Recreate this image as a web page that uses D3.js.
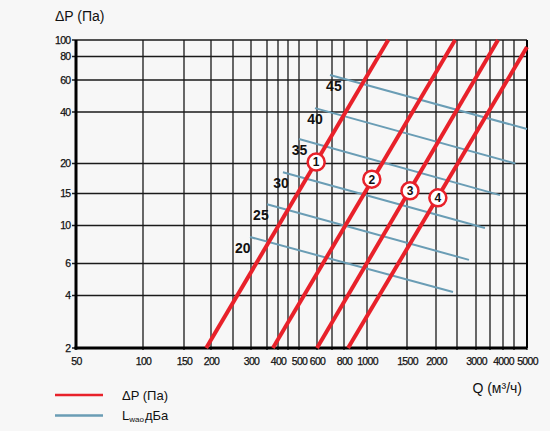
<!DOCTYPE html>
<html>
<head>
<meta charset="utf-8">
<script src="https://cdn.jsdelivr.net/npm/d3@7"></script>
<style>
  body { margin: 0; background: #f7f7f7; }
  text { font-family: "Liberation Sans", Arial, sans-serif; }
</style>
</head>
<body>
<div id="chart"></div>
<script>
// grid values and labelled ticks
var xGrid = [50, 100, 150, 200, 250, 300, 350, 400, 450, 500, 600, 700, 800, 1000, 1500, 2000, 2500, 3000, 3500, 4000, 4500, 5000];
var xLabels = [50, 100, 150, 200, 300, 400, 500, 600, 800, 1000, 1500, 2000, 3000, 4000, 5000];
var yGrid = [2, 4, 6, 10, 15, 20, 40, 60, 80, 100];

// red pressure lines: [Q, dP] start and end
var dpLines = [
  [[190, 2], [1240, 100]],
  [[376, 2], [2450, 100]],
  [[600, 2], [3800, 100]],
  [[832, 2], [5000, 91]]
];
// numbered markers on the red lines
var markerNames = ["1", "2", "3", "4"];
var markerQ = [595, 1050, 1545, 2040];
var markerDp = [20.4, 17.2, 15.4, 14.2];

// noise lines Lwa0 (dBA)
var lwaNames = ["20", "25", "30", "35", "40", "45"];
var lwaLines = [
  [[297, 8.57], [2396, 4.18]],
  [[350, 13.1], [2805, 6.3]],
  [[424, 18.4], [3310, 9.67]],
  [[500, 27.8], [3880, 14.7]],
  [[588, 42], [4550, 20.0]],
  [[686, 63.8], [5000, 31.8]]
];
var lwaLabelQ = [276, 330, 414, 503, 588, 715];

var margin = {top: 40, right: 23, bottom: 83, left: 76},
    width = 550 - margin.left - margin.right,
    height = 431 - margin.top - margin.bottom;

var svg = d3.select("#chart")
    .append("svg")
    .attr("width", width + margin.left + margin.right)
    .attr("height", height + margin.top + margin.bottom)
    .style("background", "#f7f7f7")
    .append("g")
    .attr("transform", "translate(" + margin.left + "," + margin.top + ")");

// the printed chart is not a clean log grid, so the scales are piecewise log
var x = d3.scaleLog()
    .domain(xGrid)
    .range([0, 67, 108, 135, 157, 175, 191, 202, 212, 223, 241, 256, 268, 291, 331, 360, 381, 400, 414, 427, 438, 451]);

var y = d3.scaleLog()
    .domain(yGrid)
    .range([308, 255.5, 223.5, 185.5, 153.5, 123.5, 72, 40, 16.5, 0]);

// grid
svg.append("g").selectAll("line.v")
    .data(xGrid)
    .enter().append("line")
    .attr("x1", function(d) { return x(d); })
    .attr("x2", function(d) { return x(d); })
    .attr("y1", 0)
    .attr("y2", height + 2)
    .attr("stroke", "#1a1a1a")
    .attr("stroke-width", 1.3);

svg.append("g").selectAll("line.h")
    .data(yGrid)
    .enter().append("line")
    .attr("x1", -4)
    .attr("x2", width)
    .attr("y1", function(d) { return y(d); })
    .attr("y2", function(d) { return y(d); })
    .attr("stroke", "#1a1a1a")
    .attr("stroke-width", 1.3);

// axes (labels only, lines drawn by hand)
var yAxis = svg.append("g")
    .call(d3.axisLeft(y).tickValues(yGrid).tickSize(4).tickPadding(1.5).tickFormat(d3.format("d")));
var xAxis = svg.append("g")
    .attr("transform", "translate(0," + height + ")")
    .call(d3.axisBottom(x).tickValues(xLabels).tickSize(2).tickPadding(8).tickFormat(d3.format("d")));
[xAxis, yAxis].forEach(function(a) {
  a.select(".domain").remove();
  a.selectAll(".tick line").remove();
  a.selectAll("text")
      .attr("fill", "#111")
      .style("font-family", "'Liberation Sans', Arial, sans-serif")
      .style("font-size", "10.5px")
      .style("letter-spacing", "-0.7px")
      .style("stroke", "#111")
      .style("stroke-width", "0.25px");
});

svg.append("line")
    .attr("x1", 0).attr("x2", 0)
    .attr("y1", 0).attr("y2", height + 1.5)
    .attr("stroke", "#000").attr("stroke-width", 3);
svg.append("line")
    .attr("x1", -1.5).attr("x2", width)
    .attr("y1", height).attr("y2", height)
    .attr("stroke", "#000").attr("stroke-width", 3);
svg.append("line")
    .attr("x1", width).attr("x2", width)
    .attr("y1", 0).attr("y2", height)
    .attr("stroke", "#000").attr("stroke-width", 2);

var line = d3.line()
    .x(function(d) { return x(d[0]); })
    .y(function(d) { return y(d[1]); });

// Lwa0 lines
svg.append("g").selectAll("path")
    .data(lwaLines)
    .enter().append("path")
    .attr("d", line)
    .attr("fill", "none")
    .attr("stroke", "#6a9db5")
    .attr("stroke-width", 2);

svg.append("g").selectAll("text")
    .data(lwaNames)
    .enter().append("text")
    .attr("x", function(d, i) { return x(lwaLabelQ[i]); })
    .attr("y", function(d, i) { return y(lwaLines[i][0][1]) + 16; })
    .attr("text-anchor", "middle")
    .attr("font-size", "14px")
    .attr("font-weight", "bold")
    .attr("fill", "#111")
    .text(function(d) { return d; });

// pressure lines
svg.append("g").selectAll("path")
    .data(dpLines)
    .enter().append("path")
    .attr("d", line)
    .attr("fill", "none")
    .attr("stroke", "#e8212a")
    .attr("stroke-width", 4);

// numbered markers
var mk = svg.append("g").selectAll("g")
    .data(markerNames)
    .enter().append("g")
    .attr("transform", function(d, i) {
      return "translate(" + x(markerQ[i]) + "," + y(markerDp[i]) + ")";
    });
mk.append("circle")
    .attr("r", 8.5)
    .attr("fill", "#fff")
    .attr("stroke", "#e8212a")
    .attr("stroke-width", 2.5);
mk.append("text")
    .attr("text-anchor", "middle")
    .attr("dy", "0.36em")
    .attr("font-size", "12px")
    .attr("font-weight", "bold")
    .attr("fill", "#111")
    .text(function(d) { return d; });

// axis titles
svg.append("text")
    .attr("x", 55 - margin.left)
    .attr("y", 21 - margin.top)
    .attr("font-size", "14px")
    .attr("fill", "#111")
    .text("ΔP (Па)");
svg.append("text")
    .attr("x", 522 - margin.left)
    .attr("y", 393 - margin.top)
    .attr("text-anchor", "end")
    .attr("font-size", "14px")
    .attr("fill", "#111")
    .text("Q (м³/ч)");

// legend
var legend = svg.append("g")
    .attr("transform", "translate(" + (55 - margin.left) + "," + (395 - margin.top) + ")");
legend.append("line")
    .attr("x1", 0).attr("x2", 48).attr("y1", 0).attr("y2", 0)
    .attr("stroke", "#e8212a").attr("stroke-width", 2.5);
legend.append("text")
    .attr("x", 67).attr("y", 0).attr("dy", "0.36em")
    .attr("font-size", "13px").attr("fill", "#111")
    .text("ΔP (Па)");
legend.append("line")
    .attr("x1", 0).attr("x2", 48).attr("y1", 20.5).attr("y2", 20.5)
    .attr("stroke", "#6a9db5").attr("stroke-width", 2.5);
var lt = legend.append("text")
    .attr("x", 67).attr("y", 25)
    .attr("font-size", "13px").attr("fill", "#111");
lt.append("tspan").text("L");
lt.append("tspan").attr("font-size", "8px").attr("dy", 2).text("wao");
lt.append("tspan").attr("dy", -2).attr("dx", 1).text("дБа");
</script>
</body>
</html>
